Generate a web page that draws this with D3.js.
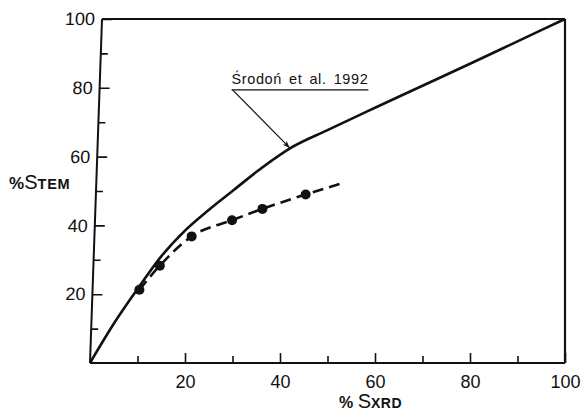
<!DOCTYPE html>
<html>
<head>
<meta charset="utf-8">
<script src="https://cdn.jsdelivr.net/npm/d3@7"></script>
<style>
  html, body { margin: 0; padding: 0; background: #fff; }
  svg { display: block; }
  text { font-family: "Liberation Sans", Arial, sans-serif; fill: #111; }
</style>
</head>
<body>
<script>
// ---- data ----
const srodonX = [0, 5, 10, 15, 20, 25, 30, 35, 40, 42, 50, 60, 70, 80, 90, 100];
const srodonY = [0, 11.4, 21.5, 31, 38.5, 44.5, 50, 55.5, 60.5, 62.3, 67.7, 74.2, 80.6, 87, 93.5, 100];
const pointsX = [10.4, 14.7, 21.4, 29.9, 36.3, 45.4];
const pointsY = [21.3, 28.3, 36.8, 41.5, 44.8, 49.0];
const fitX = [10.4, 14.7, 21.4, 29.9, 36.3, 45.4, 53.6];
const fitY = [21.3, 28.3, 36.8, 41.5, 44.8, 49.0, 52.5];
const xMajorTicks = [20, 40, 60, 80, 100];
const xMinorTicks = [10, 30, 50, 70, 90];
const yMajorTicks = [20, 40, 60, 80, 100];
const yMinorTicks = [10, 30, 50, 70, 90];
const annotationText = "Środoń et al. 1992";
const annotationAt = { x: 29.8, y: 81 };   // data coords of text start (baseline)
const arrowTipX = 42;

// ---- layout ----
const W = 584, H = 418;
const svg = d3.select("body").append("svg").attr("width", W).attr("height", H);

const x = d3.scaleLinear().domain([0, 100]).range([90, 565]);
const y = d3.scaleLinear().domain([0, 100]).range([363, 19]);

const skewDeg = -2;
const skewOffset = Math.tan(-skewDeg * Math.PI / 180) * (y(0) - y(100));

// left (slightly slanted) axis group
const gy = svg.append("g")
  .attr("transform", `translate(${x(0)},${y(0)}) skewX(${skewDeg}) translate(0,${-y(0)})`);
gy.call(d3.axisLeft(y).tickValues(yMajorTicks).tickSize(-10).tickPadding(7).tickFormat(d3.format("d")));
gy.append("g").call(d3.axisLeft(y).tickValues(yMinorTicks).tickSize(-7).tickFormat(""));
gy.selectAll(".domain").remove();
gy.append("line").attr("x1", 0).attr("x2", 0).attr("y1", y(0)).attr("y2", y(100))
  .attr("stroke", "#111").attr("stroke-width", 2);
gy.selectAll(".tick line").attr("stroke", "#111").attr("stroke-width", 1.6);
gy.selectAll(".tick text").attr("font-size", 18).style("font-family", "Liberation Sans, Arial, sans-serif").attr("fill", "#111");

// bottom axis
const gx = svg.append("g").attr("transform", `translate(0,${y(0)})`);
gx.call(d3.axisBottom(x).tickValues(xMajorTicks).tickSize(-10).tickPadding(12).tickFormat(d3.format("d")));
gx.append("g").call(d3.axisBottom(x).tickValues(xMinorTicks).tickSize(-7).tickFormat(""));
gx.selectAll(".domain").remove();
gx.append("line").attr("x1", x(0)).attr("x2", x(100)).attr("y1", 0).attr("y2", 0)
  .attr("stroke", "#111").attr("stroke-width", 2);
gx.selectAll(".tick line").attr("stroke", "#111").attr("stroke-width", 1.6);
gx.selectAll(".tick text").attr("font-size", 18).style("font-family", "Liberation Sans, Arial, sans-serif").attr("fill", "#111");

// frame: top and right
svg.append("line").attr("x1", x(0) + skewOffset).attr("x2", x(100)).attr("y1", y(100)).attr("y2", y(100))
  .attr("stroke", "#111").attr("stroke-width", 2.2);
svg.append("line").attr("x1", x(100)).attr("x2", x(100)).attr("y1", y(100)).attr("y2", y(0))
  .attr("stroke", "#111").attr("stroke-width", 2.2);

// Srodon curve
const srodon = srodonX.map((d, i) => [d, srodonY[i]]);
svg.append("path").datum(srodon)
  .attr("fill", "none").attr("stroke", "#111").attr("stroke-width", 2.6)
  .attr("d", d3.line().x(d => x(d[0])).y(d => y(d[1])).curve(d3.curveMonotoneX));

// dashed fit
const fit = fitX.map((d, i) => [d, fitY[i]]);
svg.append("path").datum(fit)
  .attr("fill", "none").attr("stroke", "#111").attr("stroke-width", 2.6)
  .attr("stroke-dasharray", "11,6")
  .attr("d", d3.line().x(d => x(d[0])).y(d => y(d[1])).curve(d3.curveMonotoneX));

// points
svg.selectAll("circle.pt").data(pointsX.map((d, i) => [d, pointsY[i]]))
  .join("circle").attr("class", "pt")
  .attr("cx", d => x(d[0])).attr("cy", d => y(d[1])).attr("r", 5).attr("fill", "#111");

// annotation
const defs = svg.append("defs");
defs.append("marker").attr("id", "arr").attr("viewBox", "0 0 10 10")
  .attr("refX", 10).attr("refY", 5).attr("markerWidth", 9).attr("markerHeight", 7)
  .attr("markerUnits", "userSpaceOnUse").attr("orient", "auto")
  .append("path").attr("d", "M0,1 L10,5 L0,9 L3,5 Z").attr("fill", "#111");

const ann = svg.append("text")
  .attr("x", x(annotationAt.x)).attr("y", y(annotationAt.y))
  .attr("font-size", 14.5).attr("letter-spacing", 0.6).attr("word-spacing", 2.5)
  .text(annotationText);
const annLen = ann.node().getComputedTextLength();
const ulY = y(annotationAt.y) + 5.5;
svg.append("line").attr("x1", x(annotationAt.x)).attr("x2", x(annotationAt.x) + annLen)
  .attr("y1", ulY).attr("y2", ulY).attr("stroke", "#111").attr("stroke-width", 1.3);
const tipY = d3.scaleLinear().domain(srodonX).range(srodonY)(arrowTipX);
svg.append("line").attr("x1", x(annotationAt.x) + 1).attr("y1", ulY)
  .attr("x2", x(arrowTipX)).attr("y2", y(tipY) - 1)
  .attr("stroke", "#111").attr("stroke-width", 1.2).attr("marker-end", "url(#arr)");

// axis titles
const yt = svg.append("text").attr("x", 9).attr("y", 189).attr("font-weight", "bold");
yt.append("tspan").attr("font-size", 17).text("%");
yt.append("tspan").attr("font-size", 20).attr("font-weight", "normal").text("S");
yt.append("tspan").attr("font-size", 14.5).attr("letter-spacing", 0.8).text("TEM");

const xt = svg.append("text").attr("x", 339).attr("y", 408).attr("font-weight", "bold");
xt.append("tspan").attr("font-size", 16).text("% ");
xt.append("tspan").attr("font-size", 20).attr("font-weight", "normal").text("S");
xt.append("tspan").attr("font-size", 14).attr("letter-spacing", 0.5).text("XRD");
</script>
</body>
</html>
